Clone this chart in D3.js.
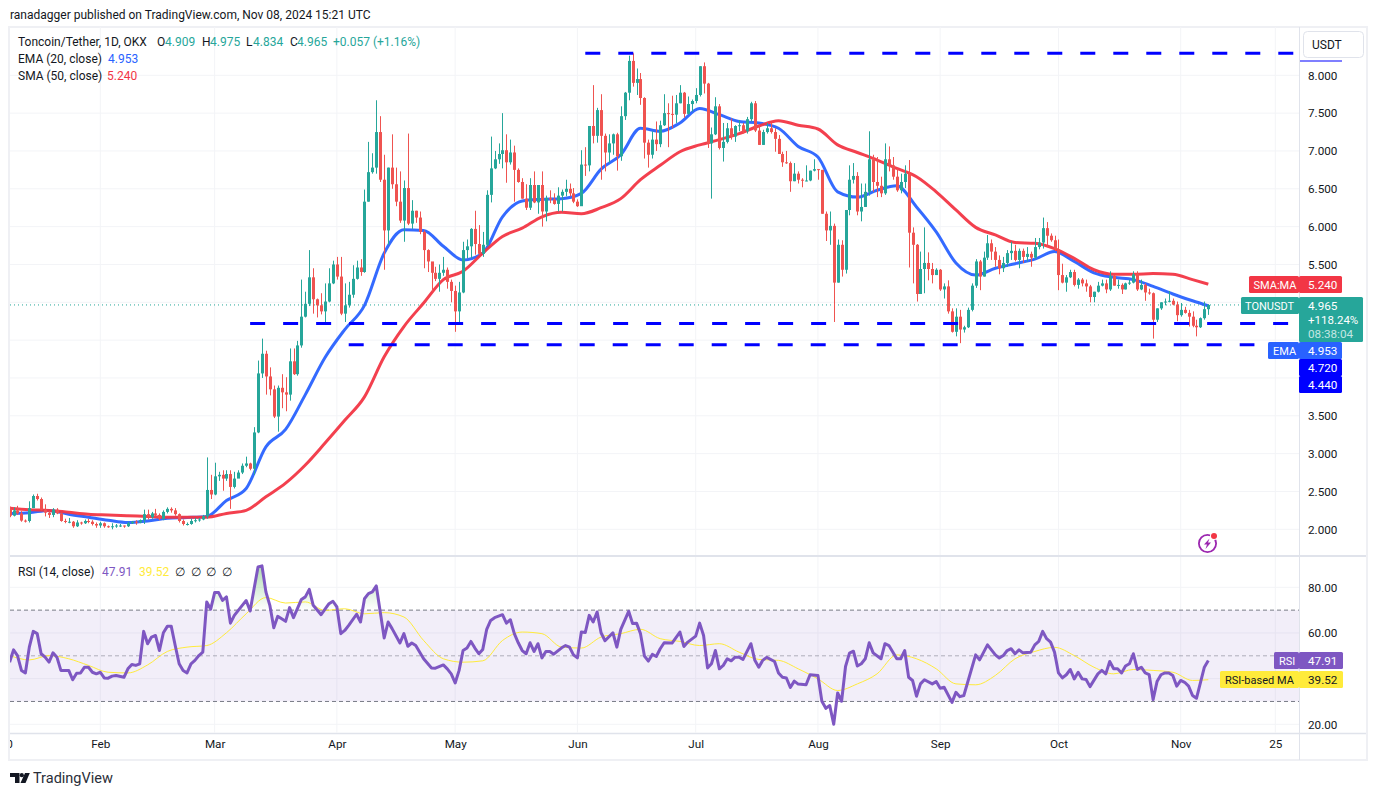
<!DOCTYPE html>
<html><head><meta charset="utf-8">
<script src="https://cdn.jsdelivr.net/npm/d3@7"></script>
<style>
html,body{margin:0;padding:0;background:#fff;overflow:hidden}
svg{display:block}
text{font-family:Roboto,"Noto Sans",sans-serif;font-size:12px;fill:#131722}
</style></head><body>
<svg id="c" width="1377" height="796"></svg>
<script>
const firstOpen = 2.27;
const closes = [
2.18,2.25,2.21,2.115,2.11,2.28,2.44,2.40,2.26,2.22,
2.19,2.26,2.21,2.11,2.10,2.10,2.04,2.09,2.08,2.11,
2.10,2.07,2.05,2.08,2.04,2.03,2.04,2.05,2.05,2.04,
2.08,2.10,2.09,2.12,2.20,2.16,2.21,2.19,2.14,2.23,
2.27,2.25,2.20,2.11,2.07,2.07,2.11,2.12,2.13,2.17,
2.52,2.46,2.70,2.72,2.67,2.73,2.56,2.67,2.75,2.84,
2.87,2.80,3.28,4.06,4.32,4.02,3.85,3.49,3.87,3.81,
3.78,4.22,4.05,4.43,4.81,4.98,5.33,5.04,4.96,4.88,
5.01,5.25,5.50,5.34,4.85,4.96,5.10,5.31,5.46,5.40,
6.33,6.72,6.78,7.25,6.62,5.95,6.78,6.56,6.33,6.08,
6.51,6.04,6.21,6.12,5.93,5.69,5.54,5.39,5.31,5.39,
5.43,5.27,5.15,4.88,5.13,5.69,5.74,5.97,5.77,5.64,
5.76,6.42,6.77,6.89,6.96,7.01,6.85,6.98,6.75,6.59,
6.37,6.25,6.55,6.32,6.55,6.20,6.38,6.36,6.30,6.41,
6.46,6.50,6.44,6.33,6.27,6.82,6.81,7.33,7.20,7.54,
7.20,6.98,7.10,7.22,6.93,7.46,7.77,8.19,7.90,7.95,
7.70,7.11,6.95,7.15,7.09,7.34,7.50,7.49,7.48,7.63,
7.77,7.49,7.62,7.66,7.74,8.12,7.89,7.10,7.22,7.59,
7.04,7.12,7.30,7.19,7.33,7.34,7.26,7.42,7.63,7.27,
7.08,7.25,7.30,7.25,7.16,6.96,6.85,6.84,6.60,6.70,
6.62,6.61,6.61,6.74,6.76,6.75,6.17,5.95,6.01,5.26,
5.76,5.43,6.22,6.62,6.67,6.20,6.26,6.46,6.89,6.59,
6.54,6.44,6.89,6.81,6.66,6.48,6.59,6.70,5.92,5.76,
5.11,5.44,5.52,5.44,5.36,5.43,5.17,5.21,4.88,4.61,
4.81,4.64,4.67,4.90,5.22,5.54,5.34,5.59,5.78,5.67,
5.56,5.45,5.52,5.65,5.68,5.56,5.68,5.60,5.64,5.59,
5.73,5.79,5.98,5.88,5.82,5.70,5.36,5.26,5.33,5.40,
5.23,5.30,5.25,5.21,5.07,5.14,5.22,5.25,5.17,5.35,
5.22,5.23,5.17,5.25,5.26,5.37,5.17,5.23,5.13,5.12,
4.77,4.92,5.00,5.01,5.02,4.97,4.83,4.90,4.86,4.81,
4.69,4.67,4.79,4.909,4.965];
const highs = [
2.30,2.29,2.31,2.24,2.13,2.37,2.46,2.47,2.42,2.33,
2.24,2.28,2.28,2.22,2.14,2.15,2.11,2.12,2.10,2.13,
2.14,2.12,2.09,2.10,2.09,2.05,2.08,2.07,2.07,2.05,
2.10,2.11,2.12,2.13,2.26,2.26,2.23,2.27,2.21,2.25,
2.29,2.29,2.28,2.21,2.13,2.09,2.14,2.15,2.15,2.19,
2.95,2.72,2.88,2.76,2.78,2.78,2.78,2.76,2.78,2.87,
2.96,2.88,3.35,4.23,4.52,4.36,4.14,3.90,3.90,4.05,
4.01,4.39,4.39,4.49,5.30,5.14,5.69,5.45,5.05,5.12,
5.25,5.45,5.55,5.60,5.60,5.25,5.27,5.49,5.55,5.57,
6.49,7.12,6.97,7.67,7.46,6.95,6.78,7.22,6.78,6.73,
6.61,7.23,6.35,6.21,6.20,5.95,5.70,5.52,5.47,5.50,
5.60,5.46,5.30,5.22,5.27,5.80,5.83,5.98,6.21,6.02,
5.93,6.48,7.19,7.00,7.10,7.50,7.22,7.15,7.07,6.77,
6.64,6.56,6.64,6.73,6.55,6.73,6.41,6.48,6.44,6.52,
6.49,6.62,6.57,6.51,6.36,7.01,7.05,7.33,7.87,7.57,
7.75,7.23,7.22,7.23,7.24,7.59,7.78,8.26,8.29,8.09,
8.03,7.71,7.15,7.26,7.39,7.40,7.75,7.63,7.73,7.74,
7.87,7.78,7.72,7.68,7.83,8.12,8.17,7.90,7.31,7.71,
7.62,7.37,7.37,7.43,7.34,7.41,7.37,7.45,7.65,7.66,
7.34,7.28,7.37,7.37,7.30,7.21,6.99,7.00,6.86,6.84,
6.73,6.64,6.81,6.74,6.89,6.76,6.75,6.20,6.20,6.04,
5.83,5.82,6.22,6.81,6.84,6.72,6.57,6.57,7.26,6.95,
6.92,6.66,7.10,7.06,6.92,6.77,6.70,6.81,6.88,5.99,
5.77,5.67,5.99,5.66,5.52,5.45,5.44,5.25,5.29,4.92,
4.92,4.90,4.69,4.93,5.25,5.57,5.56,5.67,5.89,5.83,
5.73,5.62,5.60,5.69,5.80,5.76,5.71,5.71,5.73,5.67,
5.85,5.85,6.12,6.06,5.91,5.88,5.83,5.51,5.36,5.43,
5.43,5.32,5.32,5.30,5.23,5.14,5.27,5.30,5.30,5.41,
5.36,5.30,5.25,5.26,5.30,5.41,5.41,5.30,5.25,5.18,
5.13,4.92,5.00,5.05,5.15,5.05,5.01,4.99,4.94,4.90,
4.88,4.77,4.80,5.01,4.975];
const lows = [
2.16,2.17,2.19,2.10,2.09,2.09,2.28,2.38,2.25,2.17,
2.15,2.16,2.20,2.10,2.08,2.08,2.02,2.03,2.06,2.07,
2.08,2.05,2.02,2.02,2.02,2.02,2.00,2.02,2.03,2.02,
2.03,2.07,2.06,2.08,2.07,2.13,2.14,2.17,2.12,2.12,
2.21,2.22,2.18,2.09,2.05,2.05,2.06,2.09,2.10,2.12,
2.14,2.40,2.45,2.64,2.51,2.64,2.27,2.54,2.68,2.73,
2.82,2.78,2.72,3.27,4.00,3.78,3.77,3.47,3.29,3.60,
3.56,3.70,4.04,4.03,4.40,4.80,4.95,4.85,4.80,4.84,
4.74,5.00,5.24,5.30,4.83,4.74,4.93,5.06,5.30,5.35,
5.39,6.33,6.70,6.70,6.59,5.43,5.76,6.50,6.27,6.05,
5.80,6.02,5.97,6.05,5.90,5.45,5.40,5.14,5.28,5.14,
5.35,5.18,5.00,4.61,4.70,5.12,5.58,5.58,5.63,5.63,
5.60,5.74,6.32,6.76,6.83,6.77,6.58,6.82,6.33,6.58,
6.37,6.22,6.22,6.31,6.17,6.00,6.07,6.31,6.29,6.20,
6.20,6.40,6.40,6.31,6.26,6.28,6.67,6.73,7.10,7.11,
6.62,6.73,6.84,6.95,6.74,6.87,7.41,7.67,7.85,7.74,
7.61,6.90,6.78,6.90,7.00,7.05,7.33,7.05,7.30,7.37,
7.63,7.44,7.48,7.52,7.63,7.72,7.76,7.04,6.37,7.21,
7.02,6.86,7.10,7.15,7.12,7.26,7.23,7.23,7.39,7.25,
7.08,7.08,7.23,7.23,6.99,6.96,6.79,6.83,6.46,6.60,
6.57,6.52,6.60,6.60,6.73,6.62,6.17,5.81,5.76,4.74,
5.26,5.34,5.38,6.15,6.57,6.15,6.07,6.26,6.41,6.46,
6.39,6.39,6.42,6.73,6.62,6.46,6.44,6.51,5.46,5.25,
5.01,5.11,5.12,5.29,5.25,5.36,5.15,5.05,4.85,4.60,
4.55,4.46,4.60,4.66,4.88,5.19,5.16,5.34,5.56,5.56,
5.47,5.37,5.40,5.47,5.56,5.54,5.45,5.52,5.54,5.47,
5.57,5.70,5.71,5.73,5.80,5.68,5.16,5.25,5.14,5.32,
5.21,5.18,5.21,5.14,5.00,5.00,5.13,5.21,5.12,5.15,
5.22,5.18,5.11,5.17,5.23,5.25,5.15,5.16,5.02,5.10,
4.52,4.74,4.90,4.96,5.00,4.96,4.75,4.81,4.85,4.68,
4.67,4.55,4.66,4.77,4.834];

const lineDays = [0,5,10,15,20,25,30,35,40,45,50,55,60,65,70,75,80,85,90,95,100,105,110,115,120,125,130,135,140,145,150,155,160,165,170,175,180,185,190,195,200,205,210,215,220,225,230,235,240,245,250,255,260,265,270,275,280,285,290,295,300,304];
const emaValues = [2.21,2.22,2.25,2.20,2.16,2.12,2.09,2.11,2.145,2.155,2.17,2.38,2.54,3.09,3.32,3.78,4.27,4.64,4.96,5.65,5.96,5.95,5.74,5.56,5.65,6.13,6.34,6.36,6.37,6.44,6.76,6.95,7.30,7.26,7.37,7.56,7.48,7.39,7.37,7.30,7.06,6.92,6.46,6.39,6.48,6.54,6.26,5.93,5.52,5.36,5.45,5.51,5.57,5.67,5.54,5.39,5.33,5.30,5.21,5.11,5.02,4.953];
const smaValues = [2.28,2.26,2.25,2.225,2.20,2.19,2.18,2.17,2.16,2.16,2.16,2.21,2.25,2.43,2.61,2.85,3.14,3.44,3.75,4.28,4.68,4.99,5.30,5.41,5.65,5.87,5.98,6.13,6.19,6.17,6.25,6.37,6.62,6.81,6.99,7.08,7.15,7.23,7.33,7.40,7.34,7.29,7.08,6.98,6.88,6.77,6.66,6.46,6.22,5.99,5.89,5.79,5.78,5.71,5.58,5.43,5.37,5.37,5.38,5.37,5.30,5.24];
const rsiMaValues = [50.1,48.2,50.1,48.7,45.8,42.8,42.5,46.0,51.9,53.8,54.5,60.1,68.4,75.5,73.1,73.6,69.9,70.6,68.4,68.9,67.0,56.7,48.7,47.2,47.8,56.7,60.4,59.7,53.8,53.4,58.2,59.7,61.6,57.5,56.3,54.5,55.3,51.6,48.4,48.0,44.3,39.9,34.8,37.7,42.1,50.4,48.7,44.3,37.7,37.3,41.4,48.7,51.9,53.7,50.1,45.0,42.1,44.0,43.6,42.8,39.2,39.52];

const rsiDays = [0,1,2,3,4,5,6,7,8,9,10,11,12,13,15,16,17,18,19,20,21,22,23,24,25,26,27,29,30,31,32,33,34,35,36,37,38,39,40,41,42,43,44,45,46,47,48,49,50,51,52,53,54,55,56,57,59,60,61,62,63,64,65,66,67,68,70,71,72,74,75,76,77,79,81,82,83,84,85,86,88,89,90,91,92,93,94,95,96,97,99,100,101,102,103,105,107,108,110,111,112,113,114,115,116,117,118,119,120,121,122,123,125,126,127,128,129,130,131,132,133,134,135,136,137,138,140,141,142,143,144,145,146,147,148,149,150,151,153,154,155,157,158,159,160,161,162,163,164,165,166,168,170,171,172,174,175,176,177,178,179,180,181,182,183,184,185,186,188,189,190,191,192,194,195,196,197,198,199,200,202,203,205,206,207,208,209,210,211,212,213,214,215,216,217,218,219,221,222,223,225,226,227,228,229,230,231,232,234,235,236,237,239,240,241,242,245,246,248,250,251,252,253,254,255,256,257,259,260,261,262,263,264,265,266,267,268,269,270,271,272,273,274,276,277,278,279,280,281,282,283,284,285,286,287,288,289,290,291,292,293,294,295,296,297,298,299,300,301,303,304];
const rsiValues = [47.2,52.6,50.1,43.6,42.5,53.8,60.7,59.7,50.9,49.4,47.2,51.3,49.4,43.6,43.6,39.5,42.4,42.5,45.0,45.0,42.8,42.1,42.8,40.3,40.2,41.1,41.4,40.6,44.3,46.2,45.8,46.5,60.7,55.3,58.2,58.9,52.3,60.1,62.9,62.9,54.5,46.5,43.6,42.5,46.5,48.0,50.1,51.6,73.6,70.4,77.7,77.7,74.3,75.8,64.3,67.7,72.1,74.2,69.6,79.4,88.9,89.4,78.0,72.1,62.3,67.3,65.1,71.1,66.7,74.7,75.8,79.1,72.1,68.0,72.8,73.9,71.4,59.7,61.1,63.3,68.2,64.8,75.0,77.2,78.0,80.6,69.2,57.8,64.8,61.9,55.6,59.7,54.2,55.6,54.5,48.7,44.7,44.6,46.0,44.3,42.1,38.1,43.6,52.3,53.4,56.3,53.4,50.9,52.8,61.6,65.5,66.7,68.0,64.3,65.8,59.7,55.7,52.3,50.9,55.7,51.9,55.3,49.1,51.9,51.9,50.7,53.5,54.5,53.8,50.4,49.1,60.4,60.2,67.7,64.8,69.2,60.1,56.6,60.1,53.8,61.6,69.5,64.1,64.3,59.7,49.9,47.7,50.6,49.7,53.1,55.7,55.6,60.4,54.1,56.0,58.6,64.3,58.9,44.7,46.5,52.3,44.3,45.8,48.7,47.8,49.4,49.4,48.4,55.3,48.0,45.0,48.0,49.3,47.5,42.5,40.6,40.3,36.1,38.9,37.6,37.3,41.7,41.4,30.1,27.0,28.2,20.0,33.7,30.1,45.3,51.2,52.0,45.5,46.5,48.7,55.7,51.3,48.7,55.3,54.5,48.7,48.7,52.3,40.6,39.2,32.3,37.7,39.5,37.7,38.7,35.8,36.2,29.6,34.0,32.1,32.6,50.4,48.2,54.8,50.4,49.0,50.1,52.3,53.1,50.9,52.6,51.3,51.6,54.8,56.3,60.7,57.5,56.0,51.6,42.5,40.3,41.7,44.0,39.9,42.8,39.9,39.6,36.5,42.1,43.6,42.1,47.5,44.3,44.3,42.5,45.5,46.5,50.9,44.0,45.0,42.5,41.8,30.8,38.7,41.7,42.5,42.5,41.4,36.7,39.2,38.4,36.7,32.6,31.4,45.0,47.91];

const priceGrid = [2,2.5,3,3.5,4,4.5,5,5.5,6,6.5,7,7.5,8];
const priceTicks = [2,2.5,3,3.5,5.5,6,6.5,7,7.5,8];
const rsiGrid = [20,40,60,80];
const rsiTicks = [20,60,80];
const timeDays = [-1,23,52,83,113,144,174,205,236,266,297,321];
const timeLabels = ["10","Feb","Mar","Apr","May","Jun","Jul","Aug","Sep","Oct","Nov","25"];
const levelValues = [8.29,4.72,4.44];
const levelStarts = [146,61,86];
const levelEnds = [325.6,324.3,315.7];

const svg = d3.select("#c");
const x = d3.scaleLinear().domain([0,304]).range([9.6,1208.3]);
const y = d3.scaleLinear().domain([2,8]).range([529.3,75.3]);
const yR = d3.scaleLinear().domain([20,80]).range([724.3,587.3]);
const GRID="#f3f4f7", AX="#e0e3eb", UP="#26a69a", DN="#ef5350", BLUE="#2962ff", RED="#f23645", PUR="#7e57c2", YEL="#ffeb3b";
const L=10,R=1299,T=27,B=555,RT=557,RB=733;

const defs = svg.append("defs");
defs.append("clipPath").attr("id","cp").append("rect").attr("x",L).attr("y",T).attr("width",R-L).attr("height",B-T);
defs.append("clipPath").attr("id","cr").append("rect").attr("x",L).attr("y",RT).attr("width",R-L).attr("height",RB-RT);
defs.append("clipPath").attr("id","co").append("rect").attr("x",L).attr("y",RT).attr("width",R-L).attr("height",yR(70)-RT);
defs.append("clipPath").attr("id","ctx").append("rect").attr("x",L).attr("y",0).attr("width",1356).attr("height",27);
const gr = defs.append("linearGradient").attr("id","gg").attr("gradientUnits","userSpaceOnUse")
  .attr("x1",0).attr("x2",0).attr("y1",yR(90)).attr("y2",yR(70));
gr.append("stop").attr("offset",0).attr("stop-color","#4caf50").attr("stop-opacity",.45);
gr.append("stop").attr("offset",1).attr("stop-color","#4caf50").attr("stop-opacity",0);

// title
svg.append("text").attr("x",10).attr("y",19).text("ranadagger published on TradingView.com, Nov 08, 2024 15:21 UTC");

// frame
svg.append("rect").attr("x",9).attr("y",27).attr("width",1358).attr("height",733).attr("fill","none").attr("stroke","#eff0f4").attr("stroke-width",2);

// grids
const dayGrid = timeDays.slice(1);
const pricePane = svg.append("g");
pricePane.selectAll("line.h").data(priceGrid).join("line").attr("x1",L).attr("x2",R).attr("y1",d=>y(d)).attr("y2",d=>y(d)).attr("stroke",GRID);
pricePane.append("g").selectAll("line").data(dayGrid).join("line").attr("x1",d=>x(d)).attr("x2",d=>x(d)).attr("y1",T).attr("y2",B).attr("stroke",GRID);

// current price dotted
svg.append("line").attr("x1",L).attr("x2",R).attr("y1",y(4.965)).attr("y2",y(4.965)).attr("stroke",UP).attr("stroke-dasharray","1 3");

// MAs
const g = svg.append("g").attr("clip-path","url(#cp)");
const mline = d3.line().x((d,i)=>x(lineDays[i])).y(d=>y(d)).curve(d3.curveMonotoneX);
g.append("path").attr("d",mline(emaValues)).attr("fill","none").attr("stroke",BLUE).attr("stroke-width",3).attr("stroke-opacity",.95);
g.append("path").attr("d",mline(smaValues)).attr("fill","none").attr("stroke",RED).attr("stroke-width",3).attr("stroke-opacity",.95);

// candles
const opens = closes.map((c,i)=> i===0?firstOpen:closes[i-1]);
const col = i => closes[i]>=opens[i]?UP:DN;
g.append("g").selectAll("line").data(closes).join("line")
 .attr("x1",(d,i)=>Math.round(x(i))+.5).attr("x2",(d,i)=>Math.round(x(i))+.5)
 .attr("y1",(d,i)=>y(highs[i])).attr("y2",(d,i)=>y(lows[i])).attr("stroke",(d,i)=>col(i));
g.append("g").selectAll("rect").data(closes).join("rect")
 .attr("x",(d,i)=>Math.round(x(i))-1).attr("width",3)
 .attr("y",(d,i)=>y(Math.max(opens[i],closes[i])))
 .attr("height",(d,i)=>Math.max(1,Math.abs(y(opens[i])-y(closes[i]))))
 .attr("fill",(d,i)=>col(i));

// drawn levels
svg.append("g").selectAll("line").data(levelValues).join("line")
 .attr("x1",(d,i)=>x(levelStarts[i])).attr("x2",(d,i)=>x(levelEnds[i]))
 .attr("y1",d=>y(d)).attr("y2",d=>y(d)).attr("stroke","#0000ff").attr("stroke-width",3).attr("stroke-dasharray","15 18");

// icon
const ic = svg.append("g").attr("transform","translate(1207.5,543.5)");
ic.append("circle").attr("r",8.6).attr("fill","none").attr("stroke","#9c27b0").attr("stroke-width",1.8);
ic.append("path").attr("d","M2,-5 L-3.5,1 L-0.5,1 L-2,5.5 L3.5,-1 L0.5,-1 Z").attr("fill","#9c27b0");
ic.append("circle").attr("cx",6.5).attr("cy",-7.5).attr("r",4).attr("fill","#fff");
ic.append("circle").attr("cx",6.5).attr("cy",-7.5).attr("r",3).attr("fill",RED);

// panes
svg.append("line").attr("x1",L).attr("x2",1366).attr("y1",556).attr("y2",556).attr("stroke",AX).attr("stroke-width",2);
svg.append("line").attr("x1",L).attr("x2",1366).attr("y1",733.5).attr("y2",733.5).attr("stroke",AX).attr("stroke-width",1.5);
svg.append("line").attr("x1",1299.5).attr("x2",1299.5).attr("y1",T).attr("y2",760).attr("stroke",AX);

// RSI pane
const rg = svg.append("g");
rg.append("g").selectAll("line").data(rsiGrid).join("line").attr("x1",L).attr("x2",R).attr("y1",d=>yR(d)).attr("y2",d=>yR(d)).attr("stroke",GRID);
rg.append("g").selectAll("line").data(dayGrid).join("line").attr("x1",d=>x(d)).attr("x2",d=>x(d)).attr("y1",RT).attr("y2",RB).attr("stroke",GRID);
rg.append("rect").attr("x",L).attr("width",R-L).attr("y",yR(70)).attr("height",yR(30)-yR(70)).attr("fill",PUR).attr("fill-opacity",.1);
rg.append("g").selectAll("line").data([70,50,30]).join("line").attr("x1",L).attr("x2",R).attr("y1",d=>yR(d)).attr("y2",d=>yR(d))
  .attr("stroke","#787b86").attr("stroke-opacity",d=>d===50?.55:1).attr("stroke-dasharray","4 3");
const ra = d3.area().x((d,i)=>x(rsiDays[i])).y0(yR(70)).y1(d=>yR(d));
const rp = rg.append("g").attr("clip-path","url(#co)");
rp.append("path").attr("d",ra(rsiValues)).attr("fill","url(#gg)");
const rc = rg.append("g").attr("clip-path","url(#cr)");
const rmaLine = d3.line().x((d,i)=>x(lineDays[i])).y(d=>yR(d)).curve(d3.curveMonotoneX);
rc.append("path").attr("d",rmaLine(rsiMaValues)).attr("fill","none").attr("stroke",YEL).attr("stroke-width",1);
const rLine = d3.line().x((d,i)=>x(rsiDays[i])).y(d=>yR(d));
rc.append("path").attr("d",rLine(rsiValues)).attr("fill","none").attr("stroke",PUR).attr("stroke-width",3).attr("stroke-linejoin","round");

// axes
function clean(sel){sel.select(".domain").remove();sel.selectAll("line").remove();sel.selectAll("text").attr("fill","#131722").style("font-family",'Roboto,"Noto Sans",sans-serif').style("font-size","11.7px");}
svg.append("g").attr("transform","translate(1299,0)")
 .call(d3.axisRight(y).tickValues(priceTicks).tickFormat(d3.format(".3f")).tickSize(0).tickPadding(9)).call(clean);
svg.append("g").attr("transform","translate(1299,0)")
 .call(d3.axisRight(yR).tickValues(rsiTicks).tickFormat(d3.format(".2f")).tickSize(0).tickPadding(9)).call(clean);
svg.append("g").attr("transform","translate(0,733)").attr("clip-path","url(#ctx)")
 .call(d3.axisBottom(x).tickValues(timeDays).tickFormat((d,i)=>timeLabels[i]).tickSize(0).tickPadding(7)).call(clean);

// USDT button
svg.append("rect").attr("x",1303.5).attr("y",31.5).attr("width",60).attr("height",26).attr("rx",4).attr("fill","#fff").attr("stroke",AX);
svg.append("text").attr("x",1312).attr("y",48.5).text("USDT");
svg.append("rect").attr("x",1300).attr("y",60.5).attr("width",42).attr("height",1).attr("fill","#0000ff");

// price labels
function tag(x0,y0,w,h,fill,txt,tx,ty,tc,fs){
  const t=svg.append("g");
  t.append("rect").attr("x",x0).attr("y",y0).attr("width",w).attr("height",h).attr("rx",1.5).attr("fill",fill);
  if(txt) t.append("text").attr("x",tx).attr("y",ty).text(txt).style("fill",tc||"#fff").style("font-size",(fs||11.7)+"px");
}
tag(1249,276,50,17,RED,"SMA:MA",1253.5,289,null,11);
tag(1299,276,43,17,RED,"5.240",1308,289);
tag(1241,297,58,17,UP,"TONUSDT",1245,310,null,11);
tag(1299,297,64,45,UP,"4.965",1308,310);
svg.append("text").attr("x",1308).attr("y",324).text("+118.24%").style("fill","#fff").style("font-size","11.5px");
svg.append("text").attr("x",1308).attr("y",338).text("08:38:04").style("fill","#c3e6e2").style("font-size","11.7px");
tag(1268,342,31,17,BLUE,"EMA",1273,355,null,11);
tag(1299,342,43,17,BLUE,"4.953",1308,355);
tag(1299,359,43,17,"#0000ff","4.720",1308,372);
tag(1299,376,43,17,"#0000ff","4.440",1308,389);
tag(1274,652,25,17,PUR,"RSI",1279,665,null,11);
tag(1299,652,44,17,PUR,"47.91",1308,665);
tag(1220,671,79,17,YEL,"RSI-based MA",1225,684,"#131722",11);
tag(1299,671,44,17,YEL,"39.52",1308,684,"#131722");

// legends
function legend(items,yy){items.forEach(([t,xx,c])=>svg.append("text").attr("x",xx).attr("y",yy).text(t).style("fill",c||"#131722"));}
legend([["Toncoin/Tether, 1D, OKX",18],["O",157],["4.909",165,UP],["H",202],["4.975",210,UP],["L",246],["4.834",253,UP],["C",290],["4.965",297,UP],["+0.057 (+1.16%)",333,UP]],46);
legend([["EMA (20, close)",18],["4.953",108,BLUE]],63);
legend([["SMA (50, close)",18],["5.240",107,RED]],80);
legend([["RSI (14, close)",18],["47.91",102,PUR],["39.52",139,"#ffeb3b"],["∅",175],["∅",191],["∅",206],["∅",222]],576);

// logo
const lg = svg.append("g").attr("fill","#131722");
lg.append("path").attr("d","M10,773 h9.5 v10 h-4.5 v-6 h-5 Z");
lg.append("circle").attr("cx",21.8).attr("cy",775.2).attr("r",2.1);
lg.append("path").attr("d","M25,773 h4.8 l-4.3,10 h-5 Z");
svg.append("text").attr("x",33).attr("y",783).text("TradingView").style("font-size","14.5px").style("fill","#2a2e39");
</script>
</body></html>
